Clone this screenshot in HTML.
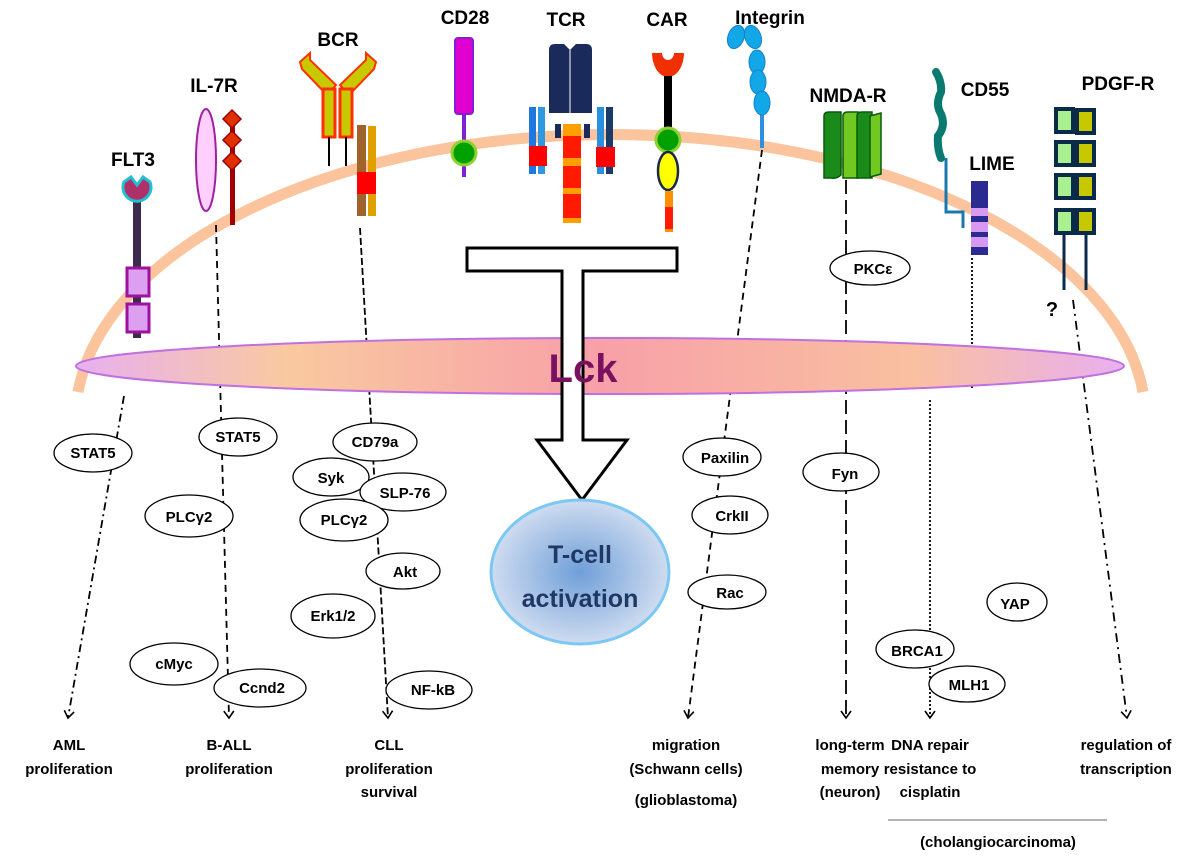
<!DOCTYPE html>
<html><head><meta charset="utf-8"><style>
html,body{margin:0;padding:0;background:#fff}
svg{display:block}
text{font-family:"Liberation Sans",Arial,sans-serif;font-weight:bold}
</style></head><body>
<svg width="1200" height="860" viewBox="0 0 1200 860" xmlns="http://www.w3.org/2000/svg">
<defs>
<linearGradient id="lck" x1="0" x2="1" y1="0" y2="0">
<stop offset="0" stop-color="#e8b0f0"/><stop offset="0.2" stop-color="#f9c9a0"/><stop offset="0.5" stop-color="#f7a0a8"/><stop offset="0.8" stop-color="#f9c0a0"/><stop offset="1" stop-color="#e8b0f0"/>
</linearGradient>
<radialGradient id="tc" cx="0.5" cy="0.5" r="0.5">
<stop offset="0" stop-color="#6f9fd8"/><stop offset="1" stop-color="#cfdcf0"/>
</radialGradient>
<marker id="ar" markerWidth="12" markerHeight="12" refX="10" refY="6" orient="auto" markerUnits="userSpaceOnUse">
<path d="M3,1 L10,6 L3,11" fill="none" stroke="#000" stroke-width="1.6"/>
</marker>
</defs>

<!-- membrane arc -->
<path d="M78,392 A535,285 0 0 1 1143,392" fill="none" stroke="#fbc49c" stroke-width="11"/>

<!-- FLT3 -->
<text x="133" y="166" font-size="19" text-anchor="middle">FLT3</text>
<rect x="133" y="198" width="8" height="140" fill="#3d2b4f"/>
<path d="M137,188 m-13,-6 a14,14 0 1 0 26,0 l-7,-5 l-6,8 l-6,-8 z" fill="#b0306a" stroke="#20c0d0" stroke-width="3"/>
<rect x="127" y="268" width="22" height="28" fill="#dda0f0" stroke="#a010a0" stroke-width="3"/>
<rect x="127" y="304" width="22" height="28" fill="#dda0f0" stroke="#a010a0" stroke-width="3"/>

<!-- IL-7R -->
<text x="214" y="92" font-size="19" text-anchor="middle">IL-7R</text>
<ellipse cx="206" cy="160" rx="10" ry="51" fill="#ffd0ff" stroke="#a020a0" stroke-width="2"/>
<rect x="230" y="118" width="5" height="107" fill="#a00000"/>
<g fill="#e03000" stroke="#a00000" stroke-width="1.5">
<path d="M232,110 l9,9 l-9,9 l-9,-9z"/><path d="M232,131 l9,9 l-9,9 l-9,-9z"/><path d="M232,152 l9,9 l-9,9 l-9,-9z"/>
</g>

<!-- BCR -->
<text x="338" y="46" font-size="19" text-anchor="middle">BCR</text>
<path d="M300,62 l10,-9 l0,7 l26,25 l-9,10 l-25,-26z" fill="#c8c800" stroke="#ff3000" stroke-width="2"/>
<path d="M376,62 l-10,-9 l0,7 l-26,25 l9,10 l25,-26z" fill="#c8c800" stroke="#ff3000" stroke-width="2"/>
<rect x="323" y="89" width="12" height="48" fill="#c8c800" stroke="#ff3000" stroke-width="3"/>
<rect x="340" y="89" width="12" height="48" fill="#c8c800" stroke="#ff3000" stroke-width="3"/>
<line x1="329" y1="137" x2="329" y2="166" stroke="#000" stroke-width="2"/>
<line x1="346" y1="137" x2="346" y2="166" stroke="#000" stroke-width="2"/>
<rect x="357" y="125" width="9" height="91" fill="#a0632c"/>
<rect x="368" y="126" width="8" height="90" fill="#e0a000"/>
<rect x="357" y="172" width="19" height="22" fill="#ff0000"/>

<!-- CD28 -->
<text x="465" y="24" font-size="19" text-anchor="middle">CD28</text>
<line x1="464" y1="112" x2="464" y2="177" stroke="#8020d0" stroke-width="4"/>
<rect x="455" y="38" width="18" height="76" rx="3" fill="#e000d0" stroke="#8020d0" stroke-width="2"/>
<circle cx="464" cy="153" r="12" fill="#00a000" stroke="#90d030" stroke-width="3"/>

<!-- TCR -->
<text x="566" y="26" font-size="19" text-anchor="middle">TCR</text>
<path d="M549,50 q0,-6 6,-6 h9 l6,6 l6,-6 h10 q6,0 6,6 v63 h-43z" fill="#1a2a5a"/>
<line x1="570" y1="50" x2="570" y2="113" stroke="#fff" stroke-width="1"/>
<rect x="529" y="107" width="7" height="67" fill="#1e78e0"/>
<rect x="538" y="107" width="7" height="67" fill="#3098e0"/>
<rect x="529" y="146" width="18" height="20" fill="#ff0000"/>
<rect x="597" y="107" width="7" height="67" fill="#2890e0"/>
<rect x="606" y="107" width="7" height="67" fill="#1a3a6a"/>
<rect x="596" y="147" width="19" height="20" fill="#ff0000"/>
<rect x="555" y="124" width="6" height="14" fill="#1a2a5a"/>
<rect x="584" y="124" width="6" height="14" fill="#1a2a5a"/>
<rect x="563" y="124" width="18" height="99" fill="#ff1a00"/>
<rect x="563" y="124" width="18" height="12" fill="#ffa000"/>
<rect x="563" y="158" width="18" height="8" fill="#ffa000"/>
<rect x="563" y="188" width="18" height="6" fill="#ffa000"/>
<rect x="563" y="218" width="18" height="5" fill="#ffa000"/>

<!-- CAR -->
<text x="667" y="26" font-size="19" text-anchor="middle">CAR</text>
<path d="M652,53 h10 a6,7 0 0 0 12,0 h10 a16,24 0 0 1 -32,0z" fill="#f03000"/>
<rect x="664" y="76" width="8" height="55" fill="#000"/>
<circle cx="668" cy="140" r="12" fill="#00a000" stroke="#90d030" stroke-width="3"/>
<ellipse cx="668" cy="171" rx="10" ry="19" fill="#ffff00" stroke="#1a2a4a" stroke-width="2.5"/>
<rect x="665" y="191" width="8" height="41" fill="#ff9000"/>
<rect x="665" y="207" width="8" height="22" fill="#ff1a00"/>

<!-- Integrin -->
<text x="770" y="24" font-size="19" text-anchor="middle">Integrin</text>
<line x1="762" y1="115" x2="762" y2="148" stroke="#2f8fe0" stroke-width="4"/>
<g fill="#12a8e8" stroke="#1a80c8" stroke-width="1">
<ellipse cx="736" cy="37" rx="8" ry="12" transform="rotate(20 736 37)"/>
<ellipse cx="753" cy="37" rx="8" ry="12" transform="rotate(-20 753 37)"/>
<ellipse cx="757" cy="62" rx="8" ry="12"/>
<ellipse cx="758" cy="82" rx="8" ry="12"/>
<ellipse cx="762" cy="103" rx="8" ry="12"/>
</g>

<!-- NMDA-R -->
<text x="848" y="102" font-size="19" text-anchor="middle">NMDA-R</text>
<g stroke="#0a5a0a" stroke-width="1.5">
<path d="M824,116 q0,-4 5,-4 h12 v63 q-4,4 -10,3 h-7z" fill="#1a8a1a"/>
<path d="M843,116 q0,-4 5,-4 h10 v66 h-15z" fill="#70c820"/>
<path d="M857,116 q0,-4 5,-4 h10 v66 h-15z" fill="#1a8a1a"/>
<path d="M870,116 l11,-3 v61 l-11,3z" fill="#70c820"/>
</g>

<!-- CD55 / LIME -->
<text x="985" y="96" font-size="19" text-anchor="middle">CD55</text>
<path d="M936,72 q6,10 5,20 q-6,12 0,22 q5,12 -3,22 q-1,12 3,22" fill="none" stroke="#0a7a70" stroke-width="8" stroke-linecap="round"/>
<path d="M946,158 V212 H963 V228" fill="none" stroke="#1a78b0" stroke-width="3"/>
<text x="992" y="170" font-size="19" text-anchor="middle">LIME</text>
<rect x="971" y="181" width="17" height="74" fill="#2a2a90"/>
<rect x="971" y="208" width="17" height="8" fill="#d89af0"/>
<rect x="971" y="222" width="17" height="10" fill="#d89af0"/>
<rect x="971" y="237" width="17" height="10" fill="#d89af0"/>

<!-- PDGF-R -->
<text x="1118" y="90" font-size="19" text-anchor="middle">PDGF-R</text>
<line x1="1064" y1="228" x2="1064" y2="290" stroke="#0a2a4a" stroke-width="3"/>
<line x1="1086" y1="228" x2="1086" y2="290" stroke="#0a2a4a" stroke-width="3"/>
<g stroke="#0a2a4a" stroke-width="4">
<rect x="1056" y="109" width="17" height="23" fill="#a8f090"/><rect x="1077" y="110" width="17" height="23" fill="#c8c800"/>
<rect x="1056" y="142" width="17" height="23" fill="#a8f090"/><rect x="1077" y="142" width="17" height="23" fill="#c8c800"/>
<rect x="1056" y="175" width="17" height="23" fill="#a8f090"/><rect x="1077" y="175" width="17" height="23" fill="#c8c800"/>
<rect x="1056" y="210" width="17" height="23" fill="#a8f090"/><rect x="1077" y="210" width="17" height="23" fill="#c8c800"/>
</g>
<text x="1052" y="316" font-size="20" text-anchor="middle">?</text>

<!-- connectors -->
<g fill="none" stroke="#000" stroke-width="1.8">
<path d="M124,396 L68,718" stroke-dasharray="8,4,2,4" marker-end="url(#ar)"/>
<path d="M216,225 L229,718" stroke-dasharray="7,5" marker-end="url(#ar)"/>
<path d="M360,228 L388,718" stroke-dasharray="7,3" marker-end="url(#ar)"/>
<path d="M762,150 L688,718" stroke-dasharray="7,5" marker-end="url(#ar)"/>
<path d="M846,180 L846,718" stroke-dasharray="14,6" marker-end="url(#ar)"/>
<path d="M972,258 L972,390" stroke-dasharray="2,2"/>
<path d="M930,400 L930,718" stroke-dasharray="2,2" marker-end="url(#ar)"/>
<path d="M1073,300 L1127,718" stroke-dasharray="9,5,2,5" marker-end="url(#ar)"/>
</g>

<!-- Lck -->
<ellipse cx="600" cy="366" rx="524" ry="28" fill="url(#lck)" stroke="#c070e0" stroke-width="2"/>

<!-- T bar and arrow -->
<path d="M467,248 H677 V271 H583 V440 H627 L582,500 L537,440 H562 V271 H467Z" fill="#fff" stroke="#000" stroke-width="3"/>
<text x="583" y="382" font-size="40" fill="#7a1060" text-anchor="middle">Lck</text>

<!-- T-cell activation -->
<ellipse cx="580" cy="572" rx="89" ry="72" fill="url(#tc)" stroke="#7cc8f4" stroke-width="3"/>
<text x="580" y="563" font-size="25" fill="#1f3864" text-anchor="middle">T-cell</text>
<text x="580" y="607" font-size="25" fill="#1f3864" text-anchor="middle">activation</text>

<!-- nodes -->
<g fill="#fff" stroke="#000" stroke-width="1.3">
<ellipse cx="93" cy="453" rx="39" ry="19"/>
<ellipse cx="238" cy="437" rx="39" ry="19"/>
<ellipse cx="189" cy="516" rx="44" ry="21"/>
<ellipse cx="174" cy="664" rx="44" ry="21"/>
<ellipse cx="260" cy="688" rx="46" ry="19"/>
<ellipse cx="375" cy="442" rx="42" ry="19"/>
<ellipse cx="331" cy="477" rx="38" ry="19"/>
<ellipse cx="403" cy="492" rx="43" ry="19"/>
<ellipse cx="344" cy="520" rx="44" ry="21"/>
<ellipse cx="403" cy="571" rx="37" ry="18"/>
<ellipse cx="333" cy="616" rx="42" ry="22"/>
<ellipse cx="429" cy="690" rx="43" ry="19"/>
<ellipse cx="722" cy="457" rx="39" ry="19"/>
<ellipse cx="730" cy="515" rx="38" ry="19"/>
<ellipse cx="727" cy="592" rx="39" ry="17"/>
<ellipse cx="841" cy="472" rx="38" ry="19"/>
<ellipse cx="870" cy="268" rx="40" ry="17"/>
<ellipse cx="1017" cy="602" rx="30" ry="19"/>
<ellipse cx="915" cy="649" rx="39" ry="19"/>
<ellipse cx="967" cy="684" rx="38" ry="18"/>
</g>
<g font-size="15" text-anchor="middle">
<text x="93" y="458">STAT5</text>
<text x="238" y="442">STAT5</text>
<text x="189" y="522">PLCγ2</text>
<text x="174" y="669">cMyc</text>
<text x="262" y="693">Ccnd2</text>
<text x="375" y="447">CD79a</text>
<text x="331" y="483">Syk</text>
<text x="405" y="498">SLP-76</text>
<text x="344" y="525">PLCγ2</text>
<text x="405" y="577">Akt</text>
<text x="333" y="621">Erk1/2</text>
<text x="433" y="695">NF-kB</text>
<text x="725" y="463">Paxilin</text>
<text x="732" y="521">CrkII</text>
<text x="730" y="598">Rac</text>
<text x="845" y="479">Fyn</text>
<text x="873" y="274">PKCε</text>
<text x="1015" y="609">YAP</text>
<text x="917" y="656">BRCA1</text>
<text x="969" y="690">MLH1</text>
</g>

<!-- outcomes -->
<g font-size="15" text-anchor="middle">
<text x="69" y="750">AML</text><text x="69" y="774">proliferation</text>
<text x="229" y="750">B-ALL</text><text x="229" y="774">proliferation</text>
<text x="389" y="750">CLL</text><text x="389" y="774">proliferation</text><text x="389" y="797">survival</text>
<text x="686" y="750">migration</text><text x="686" y="774">(Schwann cells)</text><text x="686" y="805">(glioblastoma)</text>
<text x="850" y="750">long-term</text><text x="850" y="774">memory</text><text x="850" y="797">(neuron)</text>
<text x="930" y="750">DNA repair</text><text x="930" y="774">resistance to</text><text x="930" y="797">cisplatin</text>
<text x="1126" y="750">regulation of</text><text x="1126" y="774">transcription</text>
<text x="998" y="847">(cholangiocarcinoma)</text>
</g>
<line x1="888" y1="820" x2="1107" y2="820" stroke="#888" stroke-width="1.2"/>
</svg>
</body></html>
